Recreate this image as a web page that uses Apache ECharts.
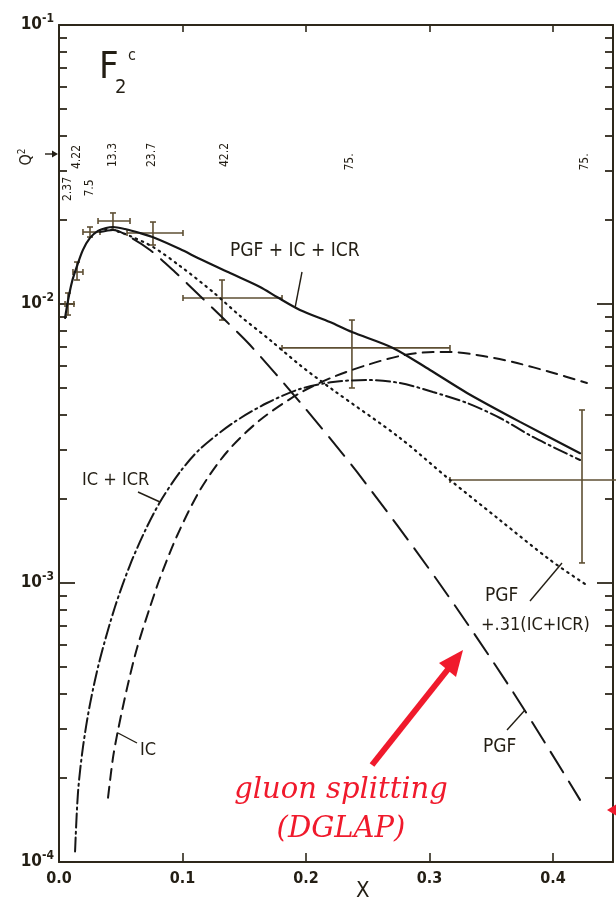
<!DOCTYPE html>
<html>
<head>
<meta charset="utf-8">
<script src="https://cdn.jsdelivr.net/npm/echarts@6.0.0/dist/echarts.min.js"></script>
<style>
html, body { margin: 0; padding: 0; background: #fff; }
#chart { width: 616px; height: 903px; }
</style>
</head>
<body>
<div id="chart"></div>
<script>
// values (x = Bjorken x, y = F2 charm, log scale)

// PGF + IC + ICR (solid)
const sumX = [0.0049, 0.0073, 0.0105, 0.0146, 0.0194, 0.0251, 0.0316, 0.0381, 0.0437, 0.0534, 0.0656, 0.0777,
  0.0980, 0.1142, 0.1385, 0.1628, 0.1765, 0.1951, 0.2194, 0.2372, 0.2704, 0.3004, 0.3304, 0.3733, 0.4219];
const sumY = [0.00891, 0.0103, 0.0120, 0.01368, 0.01563, 0.01725, 0.01828, 0.01873, 0.01888, 0.01857, 0.01796, 0.01725,
  0.01574, 0.01449, 0.01291, 0.01151, 0.01059, 0.00952, 0.00862, 0.00794, 0.00696, 0.00580, 0.00480, 0.00378, 0.00292];

// PGF + .31(IC+ICR) (dotted)
const mixX = [0.0372, 0.0437, 0.0575, 0.0761, 0.0980, 0.1247, 0.1466, 0.1709, 0.1951, 0.2219, 0.2761, 0.3166, 0.3571, 0.3976, 0.4259];
const mixY = [0.01857, 0.01842, 0.01753, 0.01601, 0.01368, 0.01104, 0.00906, 0.00743, 0.00604, 0.00492, 0.00331, 0.00234, 0.00168, 0.00121, 0.000992];

// PGF (long dashes)
const pgfX = [0.0332, 0.0437, 0.0575, 0.0737, 0.0939, 0.1142, 0.1344, 0.1547, 0.1951, 0.2413, 0.3061, 0.3676, 0.4219];
const pgfY = [0.01811, 0.01842, 0.01738, 0.01562, 0.01302, 0.01068, 0.00876, 0.00713, 0.00445, 0.0025, 0.001025, 0.000407, 0.000167];

// IC + ICR (dash-dot)
const icrX = [0.0130, 0.0154, 0.0194, 0.0251, 0.0332, 0.0453, 0.0575, 0.0696, 0.0818, 0.0980, 0.1142, 0.1409, 0.1684,
  0.1951, 0.2219, 0.2494, 0.2761, 0.3028, 0.3304, 0.3571, 0.3838, 0.4219];
const icrY = [0.000109, 0.000178, 0.000258, 0.000368, 0.000534, 0.000820, 0.00116, 0.001536, 0.001951, 0.0025, 0.003022,
  0.003746, 0.004417, 0.004959, 0.005253, 0.005340, 0.005209, 0.004838, 0.004417, 0.003903, 0.003337, 0.002760];

// IC (short dashes)
const icX = [0.0397, 0.0437, 0.0478, 0.0551, 0.0632, 0.0737, 0.0818, 0.0955, 0.1142, 0.1360, 0.1628, 0.1951, 0.2219,
  0.2494, 0.2761, 0.3028, 0.3166, 0.3433, 0.3709, 0.3976, 0.4275];
const icY = [0.000170, 0.000236, 0.000297, 0.000420, 0.000585, 0.000820, 0.001042, 0.001474, 0.002154, 0.002948, 0.003839,
  0.004797, 0.005474, 0.006044, 0.006511, 0.00673, 0.00673, 0.006511, 0.006143, 0.005705, 0.005209];

// EMC data points with error bars
const ptX  = [0.0073, 0.0146, 0.0251, 0.0437, 0.0761, 0.1320, 0.2372, 0.4235];
const ptY  = [0.0100, 0.01302, 0.01811, 0.01984, 0.01796, 0.01051, 0.00696, 0.00234];
const ptXlo = [0.0049, 0.0113, 0.0194, 0.0316, 0.0551, 0.1004, 0.1806, 0.3166];
const ptXhi = [0.0121, 0.0194, 0.0332, 0.0575, 0.1004, 0.1806, 0.3166, 0.4700];
const ptYlo = [0.00913, 0.01219, 0.01738, 0.01842, 0.01627, 0.00876, 0.0050, 0.00118];
const ptYhi = [0.01095, 0.01414, 0.01888, 0.0212, 0.01967, 0.01219, 0.00876, 0.00417];

// Q^2 of each bin, written along the top
const q2Labels = ['2.37', '4.22', '7.5', '13.3', '23.7', '42.2', '75.', '75.'];

// axis ticks
const xLabelVals = [0, 0.1, 0.2, 0.3, 0.4];
const xTickVals = [0.1, 0.2, 0.3, 0.4];
const yMajor = [0.0001, 0.001, 0.01, 0.1];
const yMinor = [0.0002, 0.0003, 0.0004, 0.0005, 0.0006, 0.0007, 0.0008, 0.0009,
  0.002, 0.003, 0.004, 0.005, 0.006, 0.007, 0.008, 0.009,
  0.02, 0.03, 0.04, 0.05, 0.06, 0.07, 0.08, 0.09];

const FONT = '"DejaVu Sans Condensed", "Liberation Sans Narrow", "DejaVu Sans", sans-serif';
const INK = '#231e14';
const AXIS = '#2e281b';
const BAR = '#5e4f33';
const RED = '#f01a2c';

function pairs(xs, ys) { return xs.map((x, i) => [x, ys[i]]); }

function curve(name, xs, ys, type, width) {
  return {
    name: name, type: 'line', data: pairs(xs, ys),
    showSymbol: false, smooth: 0.3, silent: true,
    lineStyle: { color: '#161616', width: width || 2, type: type, cap: 'round' },
    z: 4
  };
}

const chart = echarts.init(document.getElementById('chart'));

const xBase = { type: 'value', min: 0, max: 0.4486, splitLine: { show: false } };
const yBase = { type: 'log', logBase: 10, min: 0.0001, max: 0.1, splitLine: { show: false }, minorTick: { show: false } };

function txt(x, y, text, size, extra) {
  return Object.assign({
    type: 'text', x: x, y: y, z: 50,
    style: { text: text, fill: INK, font: size + 'px ' + FONT,
      textAlign: 'left', textVerticalAlign: 'middle', align: 'left', verticalAlign: 'middle' }
  }, extra || {});
}
function vtxt(x, y, text) {
  return {
    type: 'text', x: x, y: y, rotation: Math.PI / 2, z: 50,
    style: { text: text, fill: INK, font: '12px ' + FONT,
      textAlign: 'center', textVerticalAlign: 'middle', align: 'center', verticalAlign: 'middle' }
  };
}
function seg(x1, y1, x2, y2) {
  return { type: 'line', z: 50, shape: { x1: x1, y1: y1, x2: x2, y2: y2 }, style: { stroke: INK, lineWidth: 1.4 } };
}

const q2Pos = [[68, 189], [77, 157], [90, 188], [113, 155], [152, 155], [225, 155], [350, 162], [585, 162]];

const graphics = [
  // F2^c
  txt(99, 68, 'F', 38),
  txt(115, 88, '2', 20),
  txt(128, 56, 'c', 16),
  // Q^2 with its arrow
  {
    type: 'text', x: 27, y: 157, rotation: Math.PI / 2, z: 50,
    style: { text: '{q|Q}{s|2}', textAlign: 'center', textVerticalAlign: 'middle', align: 'center', verticalAlign: 'middle',
      rich: { q: { fontSize: 16, fontFamily: FONT, fill: INK, color: INK }, s: { fontSize: 10, fontFamily: FONT, fill: INK, color: INK, padding: [0, 0, 9, 0] } } }
  },
  seg(45, 154, 54, 154),
  { type: 'polygon', z: 50, shape: { points: [[58, 154], [52, 150.5], [52, 157.5]] }, style: { fill: INK } },
  // curve labels
  txt(230, 251, 'PGF + IC + ICR', 19),
  seg(302, 272, 295, 308),
  txt(82, 480, 'IC + ICR', 18),
  seg(138, 492, 160, 502),
  txt(140, 750, 'IC', 18),
  seg(118, 733, 137, 743),
  txt(485, 596, 'PGF', 19),
  txt(481, 625, '+.31(IC+ICR)', 18),
  seg(530, 601, 562, 563),
  txt(483, 747, 'PGF', 19),
  seg(507, 730, 525, 710),
  // axis title
  txt(356, 891, 'X', 22),
  // red annotation
  { type: 'text', x: 341, y: 790, z: 60,
    style: { text: 'gluon splitting', fill: RED, font: 'italic 29px "DejaVu Serif", serif', textAlign: 'center', textVerticalAlign: 'middle', align: 'center', verticalAlign: 'middle' } },
  { type: 'text', x: 341, y: 829, z: 60,
    style: { text: '(DGLAP)', fill: RED, font: 'italic 29px "DejaVu Serif", serif', textAlign: 'center', textVerticalAlign: 'middle', align: 'center', verticalAlign: 'middle' } },
  { type: 'line', z: 60, shape: { x1: 372, y1: 765, x2: 449, y2: 668 }, style: { stroke: RED, lineWidth: 6 } },
  { type: 'polygon', z: 60, shape: { points: [[463, 650], [456, 677], [439, 663]] }, style: { fill: RED } },
  { type: 'polygon', z: 60, shape: { points: [[607, 810], [620, 802], [620, 818]] }, style: { fill: RED } }
];
q2Pos.forEach((p, i) => graphics.push(vtxt(p[0], p[1], q2Labels[i])));

chart.setOption({
  animation: false,
  backgroundColor: '#ffffff',
  grid: { left: 59, right: 3, top: 25, bottom: 41 },
  xAxis: [
    Object.assign({}, xBase, {
      position: 'bottom',
      axisLine: { lineStyle: { color: AXIS, width: 2 } },
      axisTick: { inside: true, length: 9, customValues: xTickVals, lineStyle: { color: AXIS, width: 1.6 } },
      axisLabel: { customValues: xLabelVals, formatter: v => v.toFixed(1), margin: 9,
        color: INK, fontSize: 16, fontWeight: 'bold', fontFamily: FONT }
    }),
    Object.assign({}, xBase, {
      position: 'top',
      axisLine: { lineStyle: { color: AXIS, width: 2 } },
      axisTick: { inside: true, length: 7, customValues: xTickVals, lineStyle: { color: AXIS, width: 1.6 } },
      axisLabel: { show: false }
    })
  ],
  yAxis: [
    Object.assign({}, yBase, {
      position: 'left',
      axisLine: { lineStyle: { color: AXIS, width: 2 } },
      axisTick: { inside: true, length: 16, customValues: yMajor, lineStyle: { color: AXIS, width: 1.8 } },
      axisLabel: {
        customValues: yMajor, margin: 5,
        formatter: v => '{b|10}{s|' + Math.round(Math.log10(v)) + '}',
        rich: {
          b: { fontSize: 17, fontWeight: 'bold', fontFamily: FONT, color: INK },
          s: { fontSize: 12, fontWeight: 'bold', fontFamily: FONT, color: INK, padding: [0, 0, 12, 0] }
        }
      }
    }),
    Object.assign({}, yBase, {
      position: 'left',
      axisLine: { show: false },
      axisTick: { inside: true, length: 8, customValues: yMinor, lineStyle: { color: AXIS, width: 1.8 } },
      axisLabel: { show: false }
    }),
    Object.assign({}, yBase, {
      position: 'right',
      axisLine: { lineStyle: { color: AXIS, width: 2 } },
      axisTick: { inside: true, length: 16, customValues: yMajor, lineStyle: { color: AXIS, width: 1.8 } },
      axisLabel: { show: false }
    }),
    Object.assign({}, yBase, {
      position: 'right',
      axisLine: { show: false },
      axisTick: { inside: true, length: 8, customValues: yMinor, lineStyle: { color: AXIS, width: 1.8 } },
      axisLabel: { show: false }
    })
  ],
  series: [
    curve('PGF + IC + ICR', sumX, sumY, 'solid', 2.2),
    curve('PGF + .31(IC+ICR)', mixX, mixY, [1.5, 5], 2.2),
    curve('PGF', pgfX, pgfY, [24, 11], 2),
    curve('IC + ICR', icrX, icrY, [14, 4, 2, 4], 2),
    curve('IC', icX, icY, [11, 7], 2),
    {
      name: 'data', type: 'custom', clip: false, z: 3, silent: true,
      encode: { x: 0, y: 1 },
      data: ptX.map((x, i) => [x, ptY[i], ptXlo[i], ptXhi[i], ptYlo[i], ptYhi[i]]),
      renderItem: function (params, api) {
        const l = api.coord([api.value(2), api.value(1)]);
        const r = api.coord([api.value(3), api.value(1)]);
        const t = api.coord([api.value(0), api.value(5)]);
        const b = api.coord([api.value(0), api.value(4)]);
        const st = { stroke: BAR, lineWidth: 1.6 };
        const c = 3;
        const mk = (x1, y1, x2, y2) => ({ type: 'line', shape: { x1: x1, y1: y1, x2: x2, y2: y2 }, style: st });
        return {
          type: 'group',
          children: [
            mk(l[0], l[1], r[0], r[1]),
            mk(t[0], t[1], b[0], b[1]),
            mk(t[0] - c, t[1], t[0] + c, t[1]),
            mk(b[0] - c, b[1], b[0] + c, b[1]),
            mk(l[0], l[1] - c, l[0], l[1] + c),
            mk(r[0], r[1] - c, r[0], r[1] + c)
          ]
        };
      }
    }
  ],
  graphic: graphics
});
</script>
</body>
</html>
